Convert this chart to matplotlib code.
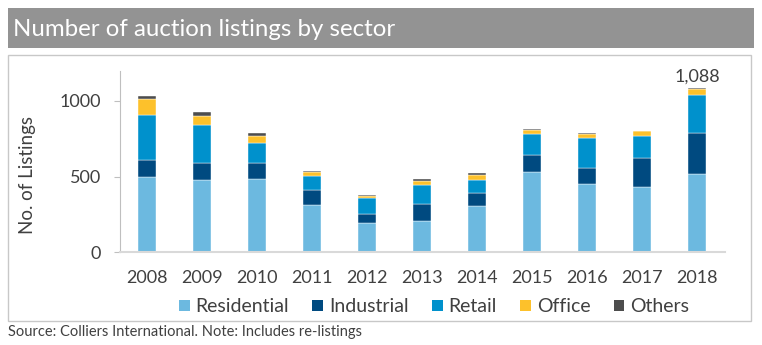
import numpy as np
import matplotlib
matplotlib.use('Agg')
import matplotlib.pyplot as plt
from matplotlib.patches import Rectangle, Patch

plt.rcParams['font.family'] = ['Lato', 'DejaVu Sans']

## data
years = ['2008', '2009', '2010', '2011', '2012', '2013', '2014', '2015', '2016', '2017', '2018']
residential = [500, 478, 482, 312, 192, 209, 308, 528, 451, 433, 515]
industrial = [112, 114, 106, 97, 62, 110, 81, 117, 108, 192, 275]
retail = [298, 252, 137, 92, 103, 125, 91, 138, 198, 143, 251]
office = [103, 59, 46, 30, 16, 29, 33, 22, 28, 33, 39]
others = [20, 22, 20, 7, 4, 11, 11, 7, 2, 2, 8]

series = [('Residential', residential, '#6CB9E0'),
          ('Industrial', industrial, '#004A80'),
          ('Retail', retail, '#0091CC'),
          ('Office', office, '#FDC12B'),
          ('Others', others, '#4D4D4D')]

W, H = 762, 345
fig = plt.figure(figsize=(W / 100, H / 100), dpi=100)

def fx(px):
    return px / W

def fy(py):
    return 1 - py / H

## header bar
fig.patches.append(Rectangle((fx(8), fy(48)), fx(746), 40 / H, transform=fig.transFigure,
                             facecolor='#939393', edgecolor='none', zorder=0))
fig.text(fx(13), fy(29), 'Number of auction listings by sector', color='white',
         fontsize=17.3, va='center', ha='left')

## chart frame
fig.patches.append(Rectangle((fx(8), fy(320.5)), fx(743), 266 / H, transform=fig.transFigure,
                             facecolor='none', edgecolor='#C8C8C8', lw=1, zorder=0))

ax = fig.add_axes([fx(119.5), fy(252.3), fx(605), (252.3 - 70.7) / H])
x = np.arange(len(years))
bottom = np.zeros(len(years))
for name, vals, col in series:
    ax.bar(x, vals, width=0.31, bottom=bottom, color=col, label=name,
           edgecolor='white', linewidth=0.3)
    bottom += np.array(vals)

total = bottom[-1]
ax.text(x[-1], total + 38, '{:,.0f}'.format(total), ha='center', va='baseline',
        fontsize=13, color='#404040')

ax.set_xlim(-0.5, len(years) - 0.5)
ax.set_ylim(0, 1200)
ax.set_yticks([0, 500, 1000])
ax.set_xticks(x)
ax.set_xticklabels(years)
ax.tick_params(axis='x', length=0, pad=13, labelsize=13, labelcolor='#404040')
ax.tick_params(axis='y', length=4.5, color='#BFBFBF', pad=9, labelsize=13, labelcolor='#404040')
for s in ['top', 'right']:
    ax.spines[s].set_visible(False)
ax.spines['left'].set_color('#BFBFBF')
ax.spines['bottom'].set_color('#D9D9D9')
ax.spines['bottom'].set_linewidth(1.5)
fig.text(fx(27), fy(175), 'No. of Listings', rotation=90, ha='center', va='center',
         fontsize=13.5, color='#404040')

handles = [Patch(facecolor=c, edgecolor='none') for _, _, c in series]
fig.legend(handles, [n for n, _, _ in series], loc='center', ncol=5,
           bbox_to_anchor=(fx(434), fy(307)), frameon=False, fontsize=14,
           handlelength=0.55, handleheight=0.55, handletextpad=0.3, columnspacing=1.2,
           labelcolor='#404040')

fig.text(fx(8), fy(332), 'Source: Colliers International. Note: Includes re-listings',
         fontsize=10.5, color='#404040', va='center')

fig.savefig('out.png', dpi=100)
